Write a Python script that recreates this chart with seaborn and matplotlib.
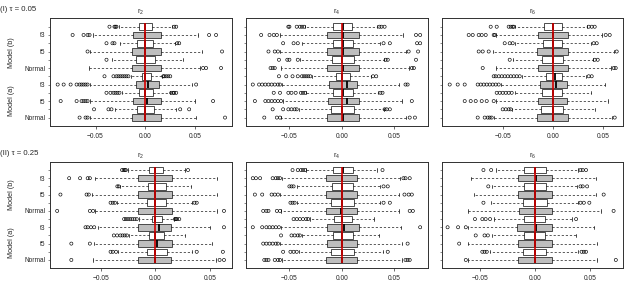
import numpy as np
import pandas as pd
import matplotlib
matplotlib.use("Agg")
import matplotlib.pyplot as plt
import matplotlib.transforms as mtransforms
import seaborn as sns

# ---------------- data (rows listed top -> bottom) ----------------
ROW_KIND = ["white", "gray"] * 6
YTICK_LABELS = ["", "t3", "", "t5", "", "Normal", "", "t3", "", "t5", "", "Normal"]
MODEL_LABELS = ["Model (b)", "Model (a)"]
ROW_TITLES = ["(I) \u03c4 = 0.05", "(II) \u03c4 = 0.25"]
COL_TITLES = ["r2", "r4", "r6"]
TRUE_VALUE = 0.0

# (I) tau = 0.05, r2
I_r2_lo = [-0.026, -0.053, -0.025, -0.056, -0.033, -0.057, -0.0145, -0.0555, -0.0237, -0.0555, -0.030, -0.0555]
I_r2_q1 = [-0.0063, -0.012, -0.008, -0.013, -0.0093, -0.0137, -0.0036, -0.0096, -0.006, -0.012, -0.0086, -0.013]
I_r2_med = [0.0, 0.0, 0.0, 0.0, 0.0, 0.0, 0.0, 0.003, 0.0, 0.002, 0.0, 0.0]
I_r2_q3 = [0.007, 0.0158, 0.008, 0.0158, 0.0097, 0.0158, 0.0054, 0.014, 0.0074, 0.0158, 0.0087, 0.0158]
I_r2_hi = [0.0265, 0.0526, 0.030, 0.0566, 0.0375, 0.055, 0.017, 0.047, 0.0248, 0.050, 0.031, 0.051]
I_r2_out = [
    [-0.036, -0.031, -0.030, -0.029, 0.029, 0.031],
    [-0.073, -0.062, -0.058, -0.056, 0.064, 0.071],
    [-0.039, -0.033, -0.031, 0.032, 0.034],
    [-0.058, 0.077],
    [-0.039],
    [0.058, 0.061, 0.076],
    [-0.041, -0.032, -0.029, -0.027, -0.025, -0.023, -0.021, -0.019, -0.017, 0.018, 0.019, 0.021, 0.023, 0.025],
    [-0.088, -0.082, -0.075, -0.069, -0.066, -0.064, -0.062, -0.060, -0.058, 0.051],
    [-0.039, -0.035, -0.032, -0.030, -0.028, -0.026, 0.026, 0.028, 0.029, 0.031],
    [-0.085, -0.069, -0.064, -0.062, -0.060, -0.058, 0.068],
    [-0.0515, -0.037, -0.034, 0.035, 0.044],
    [-0.066, -0.060, -0.058, 0.080],
]

# (I) tau = 0.05, r4
I_r4_lo = [-0.035, -0.059, -0.0384, -0.0587, -0.040, -0.0581, -0.028, -0.057, -0.034, -0.0565, -0.041, -0.058]
I_r4_q1 = [-0.008, -0.0138, -0.0086, -0.0138, -0.009, -0.0144, -0.0058, -0.0125, -0.008, -0.013, -0.0105, -0.0138]
I_r4_med = [0.0016, 0.0016, 0.001, 0.001, 0.0, 0.001, 0.0, 0.005, 0.001, 0.005, 0.0, 0.001]
I_r4_q3 = [0.0101, 0.0166, 0.0105, 0.0166, 0.012, 0.0169, 0.0079, 0.0146, 0.0105, 0.0166, 0.012, 0.0166]
I_r4_hi = [0.0335, 0.0583, 0.0366, 0.0612, 0.040, 0.0647, 0.028, 0.0548, 0.035, 0.058, 0.040, 0.0615]
I_r4_out = [
    [-0.051, -0.050, -0.043, -0.040, -0.038, -0.036, 0.036, 0.038, 0.041],
    [-0.077, -0.069, -0.065, -0.062, 0.071, 0.075],
    [-0.056, -0.046, -0.042, 0.040, 0.046, 0.072, 0.075],
    [-0.070, -0.064, -0.061, 0.064, 0.073],
    [-0.060, -0.052, -0.050, -0.042, 0.042, 0.044, 0.071],
    [-0.068, -0.066, -0.064, 0.067, 0.069],
    [-0.060, -0.053, -0.047, -0.042, -0.038, -0.036, -0.034, -0.032, -0.030, 0.030, 0.033],
    [-0.085, -0.079, -0.076, -0.073, -0.070, -0.067, -0.064, -0.061, -0.059, 0.061, 0.063],
    [-0.065, -0.059, -0.051, -0.048, -0.044, -0.039, -0.037, -0.035, 0.037, 0.039],
    [-0.083, -0.073, -0.070, -0.067, -0.064, -0.061, -0.058, 0.067],
    [-0.066, -0.056, -0.051, -0.048, -0.045, -0.043, 0.041, 0.043, 0.046],
    [-0.074, -0.062, -0.059, 0.065, 0.070],
]

# (I) tau = 0.05, r6
I_r6_lo = [-0.038, -0.057, -0.038, -0.0593, -0.040, -0.057, -0.0303, -0.052, -0.038, -0.057, -0.041, -0.059]
I_r6_q1 = [-0.0084, -0.0143, -0.0093, -0.0153, -0.011, -0.0143, -0.0067, -0.0127, -0.0103, -0.0143, -0.0117, -0.0153]
I_r6_med = [0.0, 0.0, 0.0, 0.0, 0.0, 0.0, 0.002, 0.0033, 0.0, 0.0, 0.0, 0.0]
I_r6_q3 = [0.0097, 0.015, 0.0097, 0.015, 0.0107, 0.015, 0.009, 0.014, 0.0097, 0.0147, 0.010, 0.015]
I_r6_hi = [0.034, 0.049, 0.038, 0.0617, 0.040, 0.0583, 0.033, 0.052, 0.038, 0.055, 0.042, 0.059]
I_r6_out = [
    [-0.062, -0.056, -0.044, -0.042, -0.040, -0.039, 0.036, 0.039, 0.042],
    [-0.084, -0.080, -0.074, -0.071, -0.067, -0.059, -0.058, 0.053, 0.057],
    [-0.048, -0.043, -0.040, 0.041, 0.044],
    [-0.074, -0.070, -0.064, 0.064],
    [-0.043, 0.042, 0.045],
    [-0.070, 0.061, 0.063],
    [-0.059, -0.057, -0.054, -0.051, -0.048, -0.045, -0.042, -0.039, -0.036, -0.033, 0.036, 0.039],
    [-0.103, -0.095, -0.088, -0.075, -0.072, -0.069, -0.066, -0.063, -0.060, -0.057, -0.054],
    [-0.056, -0.053, -0.050, -0.047, -0.044, -0.041],
    [-0.088, -0.082, -0.077, -0.071, -0.066, -0.059],
    [-0.050, -0.047, -0.044, -0.042],
    [-0.075, -0.068, -0.065, -0.063, -0.061, 0.062],
]

# (II) tau = 0.25, r2
II_r2_lo = [-0.025, -0.0553, -0.032, -0.058, -0.035, -0.055, -0.015, -0.053, -0.024, -0.056, -0.034, -0.057]
II_r2_q1 = [-0.0058, -0.0156, -0.0067, -0.0156, -0.0076, -0.0156, -0.0034, -0.0156, -0.0055, -0.0156, -0.0076, -0.0156]
II_r2_med = [0.0, 0.0, 0.0, 0.0, 0.0, 0.0, 0.0, 0.003, 0.0, 0.002, 0.0, 0.0]
II_r2_q3 = [0.0073, 0.015, 0.0098, 0.015, 0.010, 0.015, 0.0058, 0.0144, 0.0083, 0.015, 0.0105, 0.0144]
II_r2_hi = [0.027, 0.057, 0.033, 0.057, 0.034, 0.057, 0.0171, 0.050, 0.027, 0.052, 0.034, 0.056]
II_r2_out = [
    [-0.0305, -0.029, -0.028, -0.027, 0.030],
    [-0.079, -0.069, -0.062, -0.060],
    [-0.0348, -0.0335],
    [-0.087, -0.063, -0.061],
    [-0.041, -0.039, -0.037, 0.036, 0.038],
    [-0.090, -0.060, -0.057, 0.063],
    [-0.0286, -0.027, -0.025, -0.023, -0.021, -0.019, -0.017, 0.018, 0.019, 0.020, 0.022],
    [-0.064, -0.062, -0.059, -0.056, 0.063],
    [-0.038, -0.035, -0.032, -0.030, -0.028, -0.026],
    [-0.077, -0.060],
    [-0.041, -0.039, -0.036, 0.038, 0.062],
    [-0.077, 0.059, 0.063],
]

# (II) tau = 0.25, r4
II_r4_lo = [-0.034, -0.057, -0.043, -0.059, -0.043, -0.058, -0.030, -0.058, -0.038, -0.059, -0.041, -0.057]
II_r4_q1 = [-0.0086, -0.015, -0.0096, -0.015, -0.0105, -0.015, -0.0073, -0.0144, -0.0086, -0.0144, -0.0105, -0.015]
II_r4_med = [0.001, 0.0, 0.0, 0.0, 0.0, -0.0006, 0.0, 0.0026, 0.0, 0.0, 0.0, 0.0]
II_r4_q3 = [0.0105, 0.0143, 0.0105, 0.0143, 0.012, 0.0143, 0.0096, 0.0166, 0.0105, 0.015, 0.012, 0.0143]
II_r4_hi = [0.0335, 0.0558, 0.0366, 0.055, 0.037, 0.0548, 0.031, 0.057, 0.0356, 0.058, 0.039, 0.058]
II_r4_out = [
    [-0.047, -0.042, -0.039, -0.037, -0.035, 0.039],
    [-0.085, -0.082, -0.078, -0.066, -0.063, -0.061, -0.059, 0.059, 0.061, 0.065],
    [-0.050, -0.048, -0.046, 0.040, 0.044],
    [-0.083, -0.076, -0.067, -0.064, -0.061, 0.060, 0.064, 0.067],
    [-0.049, -0.047, -0.045, 0.040, 0.046],
    [-0.075, -0.072, -0.070, -0.062, -0.059, 0.065, 0.068],
    [-0.046, -0.043, -0.040, -0.037, -0.034, -0.032],
    [-0.085, -0.076, -0.072, -0.069, -0.066, -0.063, -0.060, 0.075],
    [-0.058, -0.048, -0.045, -0.042, -0.040],
    [-0.075, -0.072, -0.069, -0.066, -0.063, -0.061, 0.063],
    [-0.056, -0.049, -0.046, -0.043, 0.044],
    [-0.074, -0.072, -0.070, -0.064, -0.061, -0.059, 0.061, 0.063, 0.065],
]

# (II) tau = 0.25, r6
II_r6_lo = [-0.036, -0.058, -0.039, -0.056, -0.040, -0.061, -0.037, -0.061, -0.039, -0.061, -0.041, -0.061]
II_r6_q1 = [-0.0102, -0.0154, -0.0102, -0.0154, -0.0108, -0.0148, -0.0102, -0.0163, -0.0102, -0.0154, -0.0108, -0.0154]
II_r6_med = [0.0, 0.001, 0.0, 0.0, 0.0, 0.0, 0.0, 0.001, 0.0, 0.0, 0.0, 0.0]
II_r6_q3 = [0.0097, 0.0154, 0.0094, 0.0154, 0.0103, 0.0148, 0.0088, 0.0148, 0.0088, 0.0154, 0.0097, 0.0154]
II_r6_hi = [0.039, 0.055, 0.038, 0.055, 0.039, 0.060, 0.0335, 0.053, 0.037, 0.056, 0.039, 0.056]
II_r6_out = [
    [-0.047, -0.040, 0.041, 0.043, 0.046],
    [],
    [-0.0426, 0.041, 0.043, 0.047],
    [0.062],
    [-0.047, 0.041, 0.044, 0.049],
    [0.071],
    [-0.0547, -0.048, -0.045, -0.041, 0.037],
    [-0.0795, -0.070, -0.063],
    [-0.054, -0.046, -0.043],
    [-0.069],
    [-0.048, -0.046, -0.044, 0.042, 0.044, 0.046],
    [-0.063, 0.073],
]

XTICKS = [[-0.05, 0.0, 0.05], [-0.05, 0.0, 0.05], [-0.10, -0.05, 0.0, 0.05]]
XTICKLABELS_2 = ["\u22120.05", "0.00", "0.05"]
XTICKLABELS_3 = ["\u22120.10", "\u22120.05", "0.00", "0.05"]

PANELS = [
    [(I_r2_lo, I_r2_q1, I_r2_med, I_r2_q3, I_r2_hi, I_r2_out),
     (I_r4_lo, I_r4_q1, I_r4_med, I_r4_q3, I_r4_hi, I_r4_out),
     (I_r6_lo, I_r6_q1, I_r6_med, I_r6_q3, I_r6_hi, I_r6_out)],
    [(II_r2_lo, II_r2_q1, II_r2_med, II_r2_q3, II_r2_hi, II_r2_out),
     (II_r4_lo, II_r4_q1, II_r4_med, II_r4_q3, II_r4_hi, II_r4_out),
     (II_r6_lo, II_r6_q1, II_r6_med, II_r6_q3, II_r6_hi, II_r6_out)],
]

# ---------------- layout / style ----------------
sns.set_style("ticks")
plt.rcParams["font.family"] = ["Liberation Sans", "DejaVu Sans"]
plt.rcParams["mathtext.fontset"] = "custom"
plt.rcParams["mathtext.rm"] = "Liberation Sans"

W, H = 630, 287
COLS_PX = [(50.3, 231.7), (246.3, 427.7), (442.3, 623.3)]
ROWS_PX = [(18.3, 126.0), (161.7, 268.3)]
XLIMS = [[(-0.0954, 0.0867), (-0.0912, 0.0822), (-0.1104, 0.0706)],
         [(-0.0963, 0.0701), (-0.0912, 0.0822), (-0.0843, 0.0798)]]
XTICK_SETS = [[0, 0, 1], [0, 0, 0]]
MODEL_Y = [[8.9, 3.0], [9.05, 3.1]]
ROW_TITLE_Y = [9.2, 153.3]
PALETTE = {"white": "white", "gray": "#bebebe"}
EDGE = "#303030"

fig = plt.figure(figsize=(W / 100, H / 100), dpi=100)

n = len(ROW_KIND)
positions = list(range(n, 0, -1))  # top row at position n

for r in range(2):
    for c in range(3):
        lo, q1, med, q3, hi, out = PANELS[r][c]
        l, rr = COLS_PX[c]
        t, b = ROWS_PX[r]
        ax = fig.add_axes([l / W, 1 - b / H, (rr - l) / W, (b - t) / H])

        recs = []
        for i in range(n):
            for v in (lo[i], q1[i], med[i], q3[i], hi[i]):
                recs.append({"value": v, "pos": positions[i], "kind": ROW_KIND[i]})
        df = pd.DataFrame(recs)

        frecs = []
        for i in range(n):
            for v in out[i]:
                frecs.append({"value": v, "pos": positions[i]})
        fdf = pd.DataFrame(frecs)

        sns.boxplot(
            data=df, x="value", y="pos", hue="kind", hue_order=["white", "gray"],
            palette=PALETTE, orient="y", native_scale=True, dodge=False,
            whis=(0, 100), width=0.8, saturation=1, showfliers=False,
            linecolor=EDGE, linewidth=0.6, legend=False, ax=ax,
            medianprops=dict(color="black", linewidth=1.3),
            whiskerprops=dict(color="black", linewidth=0.45, linestyle=(0, (3.5, 3))),
            capprops=dict(color="black", linewidth=0.5),
        )
        sns.scatterplot(
            data=fdf, x="value", y="pos", ax=ax, marker="o", s=5,
            facecolor="none", edgecolor="black", linewidth=0.45,
            legend=False, zorder=3,
        )
        ax.vlines(TRUE_VALUE, min(positions) - 0.4, max(positions) + 0.4,
                  color="#d40000", linewidth=1.2, zorder=5)

        ax.set_xlim(*XLIMS[r][c])
        ax.set_ylim(-0.02, n + 1.02)
        ticks = XTICKS[XTICK_SETS[r][c]]
        ax.set_xticks(ticks)
        ax.set_xticklabels(XTICKLABELS_3 if len(ticks) == 4 else XTICKLABELS_2)
        ax.set_yticks(positions)
        if c == 0:
            ax.set_yticklabels(YTICK_LABELS)
        else:
            ax.set_yticklabels([""] * n)
        ax.set_xlabel("")
        ax.set_ylabel("")
        ax.tick_params(axis="x", length=2.2, width=0.5, pad=2.5, labelsize=4.8, color=EDGE)
        ax.tick_params(axis="y", length=1.3, width=0.4, pad=2.5, labelsize=4.7, color=EDGE)
        for s in ax.spines.values():
            s.set_visible(True)
            s.set_linewidth(0.7)
            s.set_color(EDGE)
        ax.set_title(r"$\mathregular{r_%s}$" % COL_TITLES[c][1], fontsize=5.2, pad=3)

        if c == 0:
            tr = mtransforms.blended_transform_factory(fig.transFigure, ax.transData)
            for k, lab in enumerate(MODEL_LABELS):
                ax.text(11.7 / W, MODEL_Y[r][k], lab, transform=tr, rotation=90,
                        ha="center", va="center", fontsize=5.2, clip_on=False)

    fig.text(0.5 / W, 1 - ROW_TITLE_Y[r] / H, ROW_TITLES[r], ha="left", va="center",
             fontsize=5.6)

fig.savefig("out.png", dpi=100)
